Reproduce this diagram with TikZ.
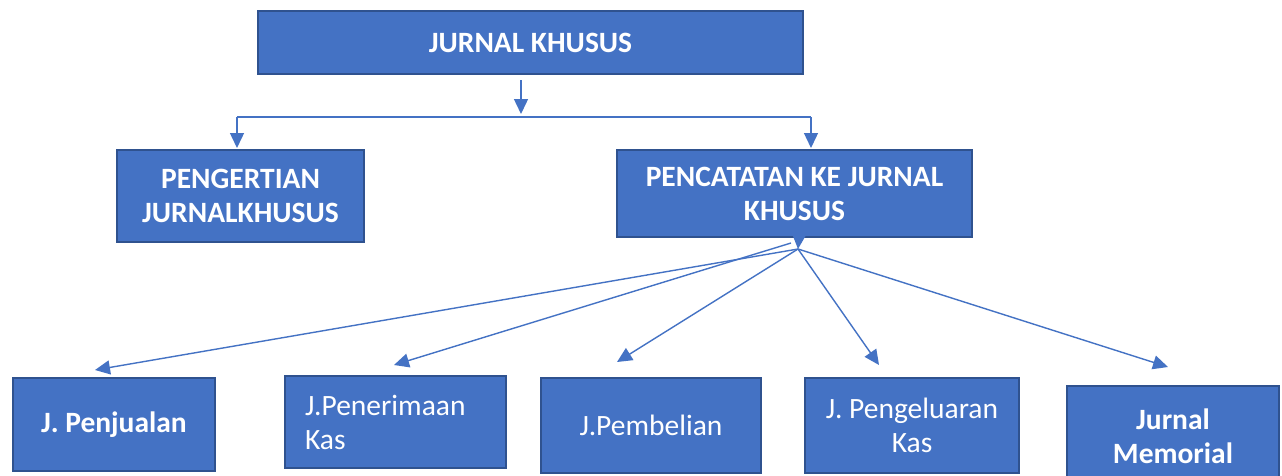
\documentclass[tikz,border=0pt]{standalone}
\usepackage{fontspec}
\setmainfont{Carlito}
\usetikzlibrary{arrows.meta,calc}
\definecolor{boxfill}{HTML}{4472C4}
\definecolor{boxline}{HTML}{2F528F}
\begin{document}
\begin{tikzpicture}[x=1pt,y=-1pt,
  box/.style={draw=boxline,fill=boxfill,line width=2pt,anchor=north west,
    text=white,font=\fontsize{29.5}{34}\selectfont,align=center,inner sep=0pt},
  boldbox/.style={box,font=\fontsize{29.5}{34}\selectfont\bfseries},
  arr/.style={draw=boxfill,line width=1.4pt,-{Triangle[length=15pt,width=14pt]}},
  ln/.style={draw=boxfill,line width=1.6pt}]
\clip (0,0) rectangle (1282,475);
\fill[white] (0,0) rectangle (1282,475);
% boxes
\node[boldbox,minimum width=545pt,minimum height=63pt] (top) at (257,10) {JURNAL KHUSUS};
\node[boldbox,minimum width=247pt,minimum height=92pt] (pg) at (116,149) {PENGERTIAN\\JURNALKHUSUS};
\node[boldbox,minimum width=355pt,minimum height=87pt] (pc) at (616,149) {PENCATATAN KE JURNAL\\KHUSUS};
\node[boldbox,minimum width=202pt,minimum height=93pt] (pj) at (12,377) {J. Penjualan};
\node[box,minimum width=221pt,minimum height=92pt,text width=181pt,align=left,inner xsep=20pt] (pn) at (284,375) {J.Penerimaan\\Kas};
\node[box,minimum width=220pt,minimum height=95pt] (pb) at (540,377) {J.Pembelian};
\node[box,minimum width=214pt,minimum height=95pt] (pk) at (804,377) {J. Pengeluaran\\Kas};
\node[boldbox,minimum width=212pt,minimum height=100pt] (jm) at (1066,385) {Jurnal\\Memorial};
% top connectors
\coordinate (j) at (521,117);
\coordinate (jl) at (237,117);
\coordinate (jr) at (811,117);
\draw[arr] ($(j |- top.south)+(0,5)$) -- ($(j)+(0,-3)$);
\draw[ln] (jl) -- (jr);
\draw[arr] (jl) -- ($(jl |- pg.north)+(0,-1)$);
\draw[arr] (jr) -- ($(jr |- pc.north)+(0,-1)$);
% fan
\coordinate (hub) at (798,249);
\draw[arr] ($(pc.south)+(4.5,-2)$) -- (hub);
\coordinate (t1) at (95,370);
\coordinate (t2) at (394,365);
\coordinate (t3) at (617,362);
\coordinate (t4) at (879,365);
\coordinate (t5) at (1168,367);
\draw[arr] (hub) -- (t1);
\draw[arr] ($(hub)+(-7,-6)$) -- (t2);
\draw[arr] (hub) -- (t3);
\draw[arr] (hub) -- (t4);
\draw[arr] (hub) -- (t5);
\end{tikzpicture}
\end{document}
